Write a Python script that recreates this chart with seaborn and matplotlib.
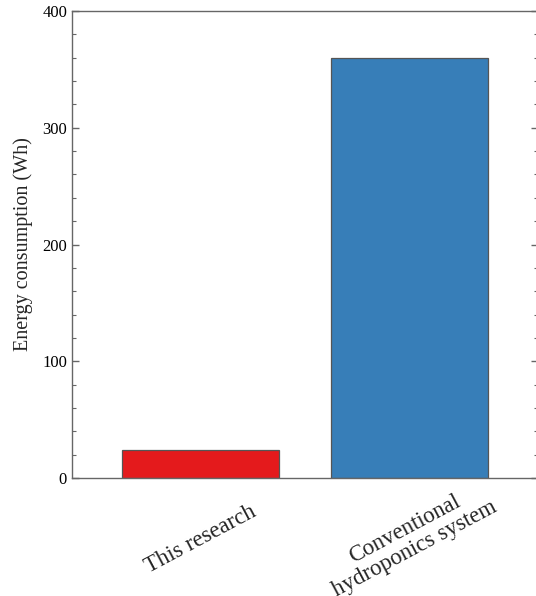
import matplotlib
matplotlib.use("Agg")
import matplotlib.pyplot as plt
from matplotlib.ticker import MultipleLocator
import pandas as pd
import seaborn as sns

sns.set_style("ticks")
plt.rcParams['font.family'] = ['Liberation Serif', 'DejaVu Serif']

# values
systems = ["This research", "Conventional\nhydroponics system"]
energy_wh = [24, 360]
bar_colors = ["#E41A1C", "#377EB8"]

data = pd.DataFrame({"System": systems, "Energy": energy_wh})

fig = plt.figure(figsize=(5.36, 5.96), dpi=100)
ax = fig.add_axes([0.1343, 0.198, 0.870, 0.7835])

sns.barplot(data=data, x="System", y="Energy", hue="System", palette=bar_colors,
            saturation=1, width=0.75, edgecolor="#555555", linewidth=0.9,
            legend=False, ax=ax)

ax.set_xlim(-0.613, 1.613)
ax.set_ylim(0, 400)
ax.yaxis.set_major_locator(MultipleLocator(100))
ax.yaxis.set_minor_locator(MultipleLocator(20))
ax.tick_params(axis="y", which="both", direction="in", left=True, right=True,
               colors="#666666", labelcolor="black", labelsize=12)
ax.tick_params(axis="y", which="major", length=5, width=1)
ax.tick_params(axis="y", which="minor", length=3, width=0.8)
ax.tick_params(axis="x", length=0, labelsize=16.5, pad=44)
for lab in ax.get_xticklabels():
    lab.set_rotation(28)
    lab.set_rotation_mode("anchor")
    lab.set_ha("center")
    lab.set_va("center")
    lab.set_multialignment("center")
    lab.set_linespacing(1.1)

for side in ["left", "right", "top", "bottom"]:
    ax.spines[side].set_color("#666666")
    ax.spines[side].set_linewidth(1)

ax.set_xlabel("")
ax.set_ylabel("Energy consumption (Wh)", fontsize=14.5, labelpad=7)

plt.savefig("out.png", dpi=100)
